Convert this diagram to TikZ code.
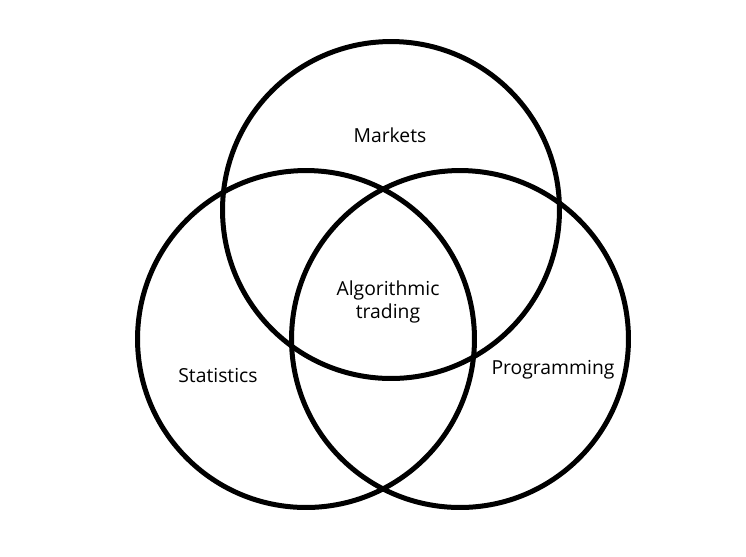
\documentclass[tikz,border=0pt]{standalone}
\usepackage{fontspec}
\setmainfont{Open Sans}
\usepackage{tikz}
\usetikzlibrary{positioning}

\begin{document}
\begin{tikzpicture}[
        x=0.02cm, y=-0.02cm,
        field/.style={circle, draw=black, line width=0.1cm, minimum size=6.74cm, inner sep=0pt},
        tag/.style={font=\fontsize{11}{13}\selectfont, align=center, inner sep=1pt}
    ]
        \useasboundingbox (0,0) rectangle (746,556);
        % Circles
        \node[field] (markets) at (391,210) {};
        \node[field] (stats) at (306,339) {};
        \node[field] (prog) at (460,339) {};

        % Labels
        \node[tag] (marketslbl) at (390,135) {Markets};
        \node[tag] (algolbl) at (388,302) {Algorithmic\\trading};
        \node[tag] (statslbl) at (218,375) {Statistics};
        \node[tag] (proglbl) at (553,370) {Programming};
    \end{tikzpicture}
\end{document}
